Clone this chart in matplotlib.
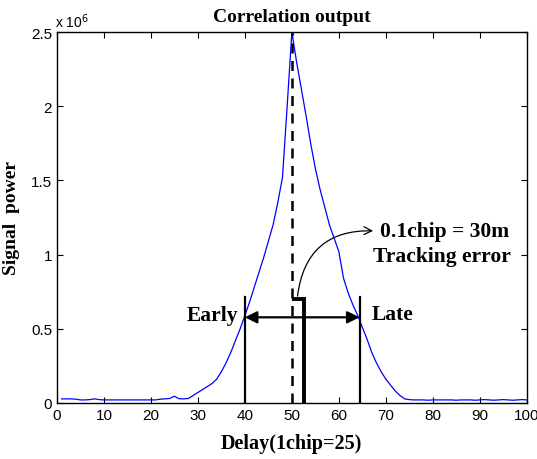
import matplotlib.pyplot as plt
from matplotlib.patches import FancyArrowPatch
import numpy as np

# correlation samples, delay 1..100, power in units of 1e6
delay = np.arange(1, 101)
power = [0.027, 0.027, 0.027, 0.025, 0.020, 0.020, 0.022, 0.027, 0.022, 0.020,
         0.020, 0.020, 0.020, 0.020, 0.020, 0.020, 0.020, 0.020, 0.020, 0.020,
         0.020, 0.025, 0.027, 0.030, 0.045, 0.028, 0.027, 0.030, 0.050, 0.070,
         0.090, 0.110, 0.130, 0.160, 0.210, 0.270, 0.340, 0.420, 0.500, 0.588,
         0.680, 0.780, 0.880, 0.980, 1.090, 1.200, 1.350, 1.520, 2.000, 2.500,
         2.300, 2.120, 1.940, 1.750, 1.580, 1.440, 1.320, 1.200, 1.110, 1.020,
         0.840, 0.740, 0.660, 0.590, 0.510, 0.430, 0.340, 0.270, 0.210, 0.160,
         0.120, 0.080, 0.050, 0.027, 0.022, 0.020, 0.020, 0.020, 0.018, 0.020,
         0.020, 0.020, 0.020, 0.020, 0.018, 0.020, 0.020, 0.020, 0.018, 0.020,
         0.022, 0.020, 0.018, 0.020, 0.022, 0.020, 0.018, 0.020, 0.022, 0.020]

early = 40
prompt = 50
late = 64.4
tracked = 52.5
xticks = np.arange(0, 101, 10)
yticks = [0, 0.5, 1, 1.5, 2, 2.5]
ytick_labels = ['0', '0.5', '1', '1.5', '2', '2.5']

serif = 'Liberation Serif'
sans = 'Liberation Sans'

fig = plt.figure(figsize=(5.37, 4.6), dpi=100)
ax = fig.add_axes([0.106, 0.122, 0.875, 0.806])

ax.plot(delay, power, color='b', lw=0.9)
ax.plot([prompt, prompt], [0, 2.5], 'k--', lw=1.8, dashes=(4, 3))
ax.plot([early, early], [0, 0.715], 'k-', lw=1.6)
ax.plot([late, late], [0, 0.715], 'k-', lw=1.6)
ax.plot([tracked, tracked], [0, 0.70], 'k-', lw=2.8)
ax.plot([prompt, tracked], [0.70, 0.70], 'k-', lw=2.8, solid_capstyle='butt')

ax.annotate('', xy=(early, 0.577), xytext=(late, 0.577),
            arrowprops=dict(arrowstyle='<|-|>', color='k', lw=1.6,
                            mutation_scale=18, shrinkA=0, shrinkB=0))

arc = FancyArrowPatch((51.2, 0.72), (67.3, 1.16), arrowstyle='->',
                      connectionstyle='arc3,rad=-0.45', color='k', lw=0.9,
                      mutation_scale=14, shrinkA=0, shrinkB=0)
ax.add_patch(arc)

ax.text(38.5, 0.59, 'Early', ha='right', va='center', fontfamily=serif,
        fontweight='bold', fontsize=15.5)
ax.text(67.0, 0.60, 'Late', ha='left', va='center', fontfamily=serif,
        fontweight='bold', fontsize=15.5)
ax.text(82.5, 1.16, '0.1chip = 30m', ha='center', va='center',
        fontfamily=serif, fontweight='bold', fontsize=15.5)
ax.text(82.0, 0.99, 'Tracking error', ha='center', va='center',
        fontfamily=serif, fontweight='bold', fontsize=15.5)

ax.set_xlim(0, 100)
ax.set_ylim(0, 2.5)
ax.set_xticks(xticks)
ax.set_yticks(yticks)
ax.set_yticklabels(ytick_labels)
ax.tick_params(direction='in', top=True, right=True, length=4, width=0.8,
               labelsize=11)
for lab in ax.get_xticklabels() + ax.get_yticklabels():
    lab.set_fontfamily(sans)
for s in ax.spines.values():
    s.set_linewidth(1.0)

ax.text(-0.005, 1.005, 'x 10$^6$', transform=ax.transAxes, ha='left',
        va='bottom', fontfamily=sans, fontsize=10)
ax.set_title('Correlation output', fontfamily=serif, fontweight='bold',
             fontsize=14, pad=8)
ax.set_xlabel('Delay(1chip=25)', fontfamily=serif, fontweight='bold',
              fontsize=14.5, labelpad=8)
ax.set_ylabel('Signal  power', fontfamily=serif, fontweight='bold',
              fontsize=14)
ax.yaxis.set_label_coords(-0.079, 0.5)

fig.savefig('out.png', dpi=100)
